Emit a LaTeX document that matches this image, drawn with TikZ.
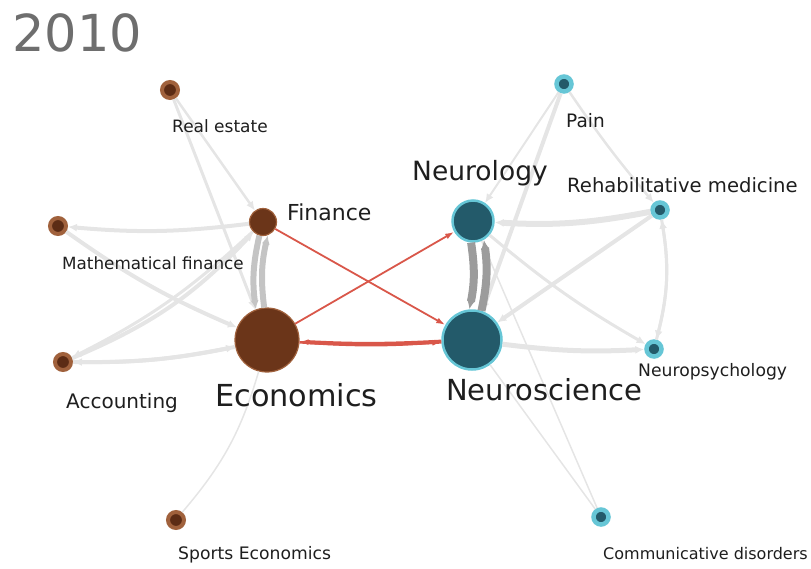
\documentclass[tikz,border=0pt]{standalone}
\usepackage{fontspec}
\setmainfont{DejaVu Sans}
\usetikzlibrary{arrows.meta}
\definecolor{brownhub}{HTML}{6B3519}
\definecolor{brownin}{HTML}{5C2C15}
\definecolor{brownring}{HTML}{A0613C}
\definecolor{tealhub}{HTML}{235A6A}
\definecolor{tealring}{HTML}{66C6D6}
\definecolor{linkgray}{HTML}{E5E5E5}
\definecolor{midgray}{HTML}{C4C4C4}
\definecolor{darkgray}{HTML}{9C9C9C}
\definecolor{linkred}{HTML}{D9574A}
\definecolor{labelink}{HTML}{1E1E1E}
\definecolor{yearink}{HTML}{6E6E6E}
\begin{document}
\begin{tikzpicture}
[x=1pt, y=-1pt,
  brownleaf/.style={shape=circle,inner sep=0pt,minimum size=16pt,fill=brownin,draw=brownring,line width=4pt},%
  tealleaf/.style={shape=circle,inner sep=0pt,minimum size=15pt,fill=tealhub,draw=tealring,line width=4.5pt},%
  brownhub/.style={shape=circle,inner sep=0pt,fill=brownhub,draw=brownring,line width=1.2pt},%
  tealhub/.style={shape=circle,inner sep=0pt,fill=tealhub,draw=tealring,line width=2.5pt},%
  financehub/.style={brownhub,minimum size=27pt},%
  econhub/.style={brownhub,minimum size=64pt},%
  neurologyhub/.style={tealhub,minimum size=41pt},%
  neurosciencehub/.style={tealhub,minimum size=59pt},%
  link/.style={draw=linkgray,line width=#1,-{Latex[length=9pt,width=8pt]}},%
  thinlink/.style={draw=linkgray,line width=#1},%
  redlink/.style={draw=linkred,line width=#1,-{Latex[length=9pt,width=6pt]}},%
  lbl/.style={anchor=west,inner sep=0pt,text=labelink,font=\fontsize{#1}{#1}\selectfont}]
\useasboundingbox (0,0) rectangle (811,568);
%% year
\node (year) at (12,33) [anchor=west,inner sep=0pt,text=yearink,font=\fontsize{51}{51}\selectfont] {2010};
%% nodes or vertices
\foreach \nodename/\x/\y/\deco in {realEstate/170/90/brownleaf, mathFinance/58/226/brownleaf,
  accounting/63/362/brownleaf, sportsEcon/176/520/brownleaf, finance/263/222/financehub,
  economics/267/340/econhub, pain/564/84/tealleaf, rehabMed/660/210/tealleaf,
  neuroPsych/654/349/tealleaf, commDisorders/601/517/tealleaf,
  neurology/473/221/neurologyhub, neuroscience/472/340/neurosciencehub} {
  \node (\nodename) at (\x,\y) [\deco] {};
}
%% grey edges
\path
\foreach \startnode/\endnode/\w/\b in {realEstate/finance/2.5/0, realEstate/economics/3/0,
  finance/mathFinance/4/6, mathFinance/economics/4/-6, accounting/finance/4/-12,
  finance/accounting/3/8, economics/accounting/4/6, accounting/economics/4/-6,
  pain/neurology/2/0, pain/neuroscience/4/0, pain/rehabMed/2.5/-3,
  rehabMed/neurology/6/7, rehabMed/neuroscience/4/0, neurology/neuroPsych/3/-5,
  neuroscience/neuroPsych/5/-5, rehabMed/neuroPsych/3/12, neuroPsych/rehabMed/3/-12} {
  (\startnode) edge[link=\w, bend left=\b] (\endnode)
};
\path
\foreach \startnode/\endnode/\b in {sportsEcon/economics/-12, neurology/commDisorders/0,
  neuroscience/commDisorders/0} {
  (\startnode) edge[thinlink=1.5, bend left=\b] (\endnode)
};
%% heavy pairs
\path (finance.255) edge[link=6, draw=midgray, bend right=10] (economics.110)
      (economics.95) edge[link=6, draw=midgray, bend left=10] (finance.290)
      (neurology.265) edge[link=8, draw=darkgray, bend left=10] (neuroscience.95)
      (neuroscience.72) edge[link=8, draw=darkgray, bend right=10] (neurology.300);
%% red edges
\path (finance) edge[redlink=1.8] (neuroscience)
      (economics) edge[redlink=1.8] (neurology)
      (economics) edge[redlink=2.5, bend right=4] (neuroscience)
      (neuroscience) edge[redlink=4, bend left=3] (economics);
%% labels
\foreach \nodename/\x/\y/\s/\txt in {realEstateLbl/172/126/17/Real estate,
  mathFinanceLbl/62/263/16.8/Mathematical finance, financeLbl/287/212/22/Finance,
  accountingLbl/66/403/20/Accounting, economicsLbl/215/395/30.3/Economics,
  sportsEconLbl/178/555/17.2/Sports Economics, neurologyLbl/412/173/26.5/Neurology,
  painLbl/566/121/18.5/Pain, rehabMedLbl/567/185/19.6/Rehabilitative medicine,
  neuroscienceLbl/446/390/29/Neuroscience, neuroPsychLbl/638/372/17.2/Neuropsychology,
  commDisordersLbl/603/554/16/Communicative disorders} {
  \node (\nodename) at (\x,\y) [lbl=\s] {\txt};
}
\end{tikzpicture}
\end{document}
